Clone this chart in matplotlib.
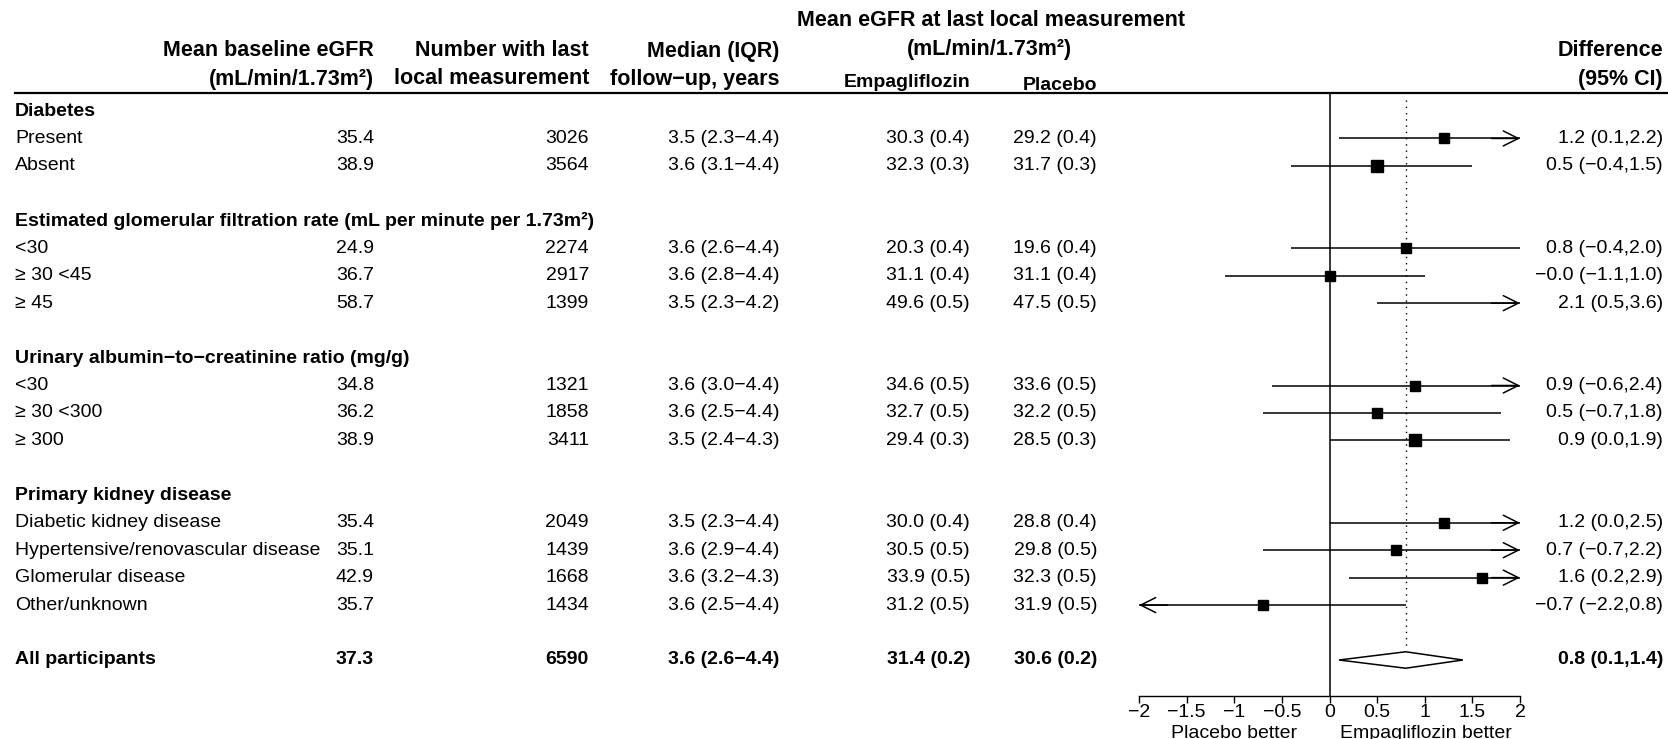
import matplotlib
matplotlib.use('Agg')
import matplotlib.pyplot as plt
from matplotlib.lines import Line2D
from matplotlib.patches import Polygon
from matplotlib.transforms import blended_transform_factory

plt.rcParams['font.family'] = ['Liberation Sans', 'DejaVu Sans']

# rows of the table, None = blank spacer row
labels = ['Diabetes', 'Present', 'Absent', None,
          'Estimated glomerular filtration rate (mL per minute per 1.73m\u00b2)',
          '<30', '\u2265 30 <45', '\u2265 45', None,
          'Urinary albumin\u2212to\u2212creatinine ratio (mg/g)',
          '<30', '\u2265 30 <300', '\u2265 300', None,
          'Primary kidney disease',
          'Diabetic kidney disease', 'Hypertensive/renovascular disease',
          'Glomerular disease', 'Other/unknown', None,
          'All participants']
is_heading = [True, False, False, False, True, False, False, False, False,
              True, False, False, False, False, True, False, False, False,
              False, False, True]

baseline = ['', '35.4', '38.9', '', '', '24.9', '36.7', '58.7', '', '',
            '34.8', '36.2', '38.9', '', '', '35.4', '35.1', '42.9', '35.7', '', '37.3']
n_last = ['', '3026', '3564', '', '', '2274', '2917', '1399', '', '',
          '1321', '1858', '3411', '', '', '2049', '1439', '1668', '1434', '', '6590']
followup = ['', '3.5 (2.3\u22124.4)', '3.6 (3.1\u22124.4)', '', '',
            '3.6 (2.6\u22124.4)', '3.6 (2.8\u22124.4)', '3.5 (2.3\u22124.2)', '', '',
            '3.6 (3.0\u22124.4)', '3.6 (2.5\u22124.4)', '3.5 (2.4\u22124.3)', '', '',
            '3.5 (2.3\u22124.4)', '3.6 (2.9\u22124.4)', '3.6 (3.2\u22124.3)',
            '3.6 (2.5\u22124.4)', '', '3.6 (2.6\u22124.4)']
empa = ['', '30.3 (0.4)', '32.3 (0.3)', '', '', '20.3 (0.4)', '31.1 (0.4)', '49.6 (0.5)',
        '', '', '34.6 (0.5)', '32.7 (0.5)', '29.4 (0.3)', '', '',
        '30.0 (0.4)', '30.5 (0.5)', '33.9 (0.5)', '31.2 (0.5)', '', '31.4 (0.2)']
placebo = ['', '29.2 (0.4)', '31.7 (0.3)', '', '', '19.6 (0.4)', '31.1 (0.4)', '47.5 (0.5)',
           '', '', '33.6 (0.5)', '32.2 (0.5)', '28.5 (0.3)', '', '',
           '28.8 (0.4)', '29.8 (0.5)', '32.3 (0.5)', '31.9 (0.5)', '', '30.6 (0.2)']

# difference (95% CI) for each subgroup row
sub_rows = [1, 2, 5, 6, 7, 10, 11, 12, 15, 16, 17, 18]
est = [1.2, 0.5, 0.8, -0.0, 2.1, 0.9, 0.5, 0.9, 1.2, 0.7, 1.6, -0.7]
lo = [0.1, -0.4, -0.4, -1.1, 0.5, -0.6, -0.7, 0.0, 0.0, -0.7, 0.2, -2.2]
hi = [2.2, 1.5, 2.0, 1.0, 3.6, 2.4, 1.8, 1.9, 2.5, 2.2, 2.9, 0.8]
overall_row = 20
overall = (0.8, 0.1, 1.4)

xticks = [-2, -1.5, -1, -0.5, 0, 0.5, 1, 1.5, 2]
xtick_labels = ['\u22122', '\u22121.5', '\u22121', '\u22120.5', '0', '0.5', '1', '1.5', '2']

W, H = 1668, 739
fs = 14
fs_hdr = 15.5
fig = plt.figure(figsize=(W / 100, H / 100), dpi=100)

# forest panel: x from -2 to 2, y in row units
x_left, x_right = 1139, 1520
y_top, y_bot = 94, 696
row0, row_step = 111.0, 27.45
ax = fig.add_axes([x_left / W, 1 - y_bot / H, (x_right - x_left) / W, (y_bot - y_top) / H])
ax.set_xlim(-2, 2)
ax.set_ylim((y_bot - row0) / row_step, (y_top - row0) / row_step)
ax.patch.set_visible(False)
for side in ['top', 'right', 'left']:
    ax.spines[side].set_visible(False)
ax.spines['bottom'].set_linewidth(1.0)
ax.set_yticks([])
ax.set_xticks(xticks)
ax.set_xticklabels(xtick_labels, fontsize=fs)
ax.tick_params(axis='x', direction='out', length=5, width=1.0, pad=0.5)

ax.axvline(0, color='black', lw=1.1)
ax.plot([overall[0], overall[0]], [-0.4, overall_row - 0.35], color='black',
        lw=1.0, linestyle=(0, (1, 3.5)))

lo_lim, hi_lim = ax.get_xlim()
arrow = dict(arrowstyle='->,head_length=0.9,head_width=0.45', lw=1.1,
             color='black', mutation_scale=12, shrinkA=0, shrinkB=0)
for r, e, l, h in zip(sub_rows, est, lo, hi):
    l_c, h_c = max(l, lo_lim), min(h, hi_lim)
    ax.plot([l_c, h_c], [r, r], color='black', lw=1.1, solid_capstyle='butt')
    if h > hi_lim:
        ax.annotate('', xy=(hi_lim, r), xytext=(hi_lim - 0.3, r), arrowprops=arrow)
    if l < lo_lim:
        ax.annotate('', xy=(lo_lim, r), xytext=(lo_lim + 0.3, r), arrowprops=arrow)
    if lo_lim <= e <= hi_lim:
        ax.plot(e, r, marker='s', color='black', markersize=4 + 8.0 / (h - l),
                linestyle='none')

oe, ol, oh = overall
diamond = Polygon([(ol, overall_row), (oe, overall_row - 0.3), (oh, overall_row),
                   (oe, overall_row + 0.3)], closed=True, facecolor='white',
                  edgecolor='black', lw=1.1)
ax.add_patch(diamond)

# direction labels below the axis
fig.text(1234 / W, 1 - 733 / H, 'Placebo better', ha='center', va='center', fontsize=fs)
fig.text(1426 / W, 1 - 733 / H, 'Empagliflozin better', ha='center', va='center', fontsize=fs)

# table text, y in row units of the forest panel
tr = blended_transform_factory(fig.transFigure, ax.transData)
col_label = 15 / W
col_base = 374 / W
col_n = 589 / W
col_fu = 779 / W
col_empa = 970 / W
col_pbo = 1097 / W
col_diff = 1663 / W

for i, lab in enumerate(labels):
    if lab is None:
        continue
    ax.text(col_label, i, lab, transform=tr, ha='left', va='center', fontsize=fs,
            fontweight='bold' if is_heading[i] else 'normal')

for i in range(len(labels)):
    w = 'bold' if i == overall_row else 'normal'
    for col, vals in [(col_base, baseline), (col_n, n_last), (col_fu, followup),
                      (col_empa, empa), (col_pbo, placebo)]:
        if vals[i]:
            ax.text(col, i, vals[i], transform=tr, ha='right', va='center',
                    fontsize=fs, fontweight=w)

for r, e, l, h in zip(sub_rows, est, lo, hi):
    txt = '%.1f (%.1f,%.1f)' % (e, l, h)
    ax.text(col_diff, r, txt.replace('-', '\u2212'), transform=tr, ha='right',
            va='center', fontsize=fs)
ax.text(col_diff, overall_row, ('%.1f (%.1f,%.1f)' % overall).replace('-', '\u2212'),
        transform=tr, ha='right', va='center', fontsize=fs, fontweight='bold')

# column headers
hdr = dict(ha='right', va='center', fontsize=fs_hdr, fontweight='bold')
fig.text(col_base, 1 - 51 / H, 'Mean baseline eGFR', **hdr)
fig.text(col_base, 1 - 79 / H, '(mL/min/1.73m\u00b2)', **hdr)
fig.text(col_n, 1 - 51 / H, 'Number with last', **hdr)
fig.text(col_n, 1 - 79 / H, 'local measurement', **hdr)
fig.text(col_fu, 1 - 51 / H, 'Median (IQR)', **hdr)
fig.text(col_fu, 1 - 79 / H, 'follow\u2212up, years', **hdr)
fig.text(col_diff, 1 - 51 / H, 'Difference', **hdr)
fig.text(col_diff, 1 - 79 / H, '(95% CI)', **hdr)
fig.text(991 / W, 1 - 21 / H, 'Mean eGFR at last local measurement', ha='center',
         va='center', fontsize=fs_hdr, fontweight='bold')
fig.text(989 / W, 1 - 49 / H, '(mL/min/1.73m\u00b2)', ha='center', va='center',
         fontsize=fs_hdr, fontweight='bold')
fig.text(col_empa, 1 - 87 / H, 'Empagliflozin', ha='right', va='baseline',
         fontsize=14, fontweight='bold')
fig.text(col_pbo, 1 - 90 / H, 'Placebo', ha='right', va='baseline',
         fontsize=14, fontweight='bold')

# rule under the headers
fig.add_artist(Line2D([15 / W, 1.0], [1 - 93 / H, 1 - 93 / H], color='black', lw=1.6))

fig.savefig('out.png', dpi=100)
